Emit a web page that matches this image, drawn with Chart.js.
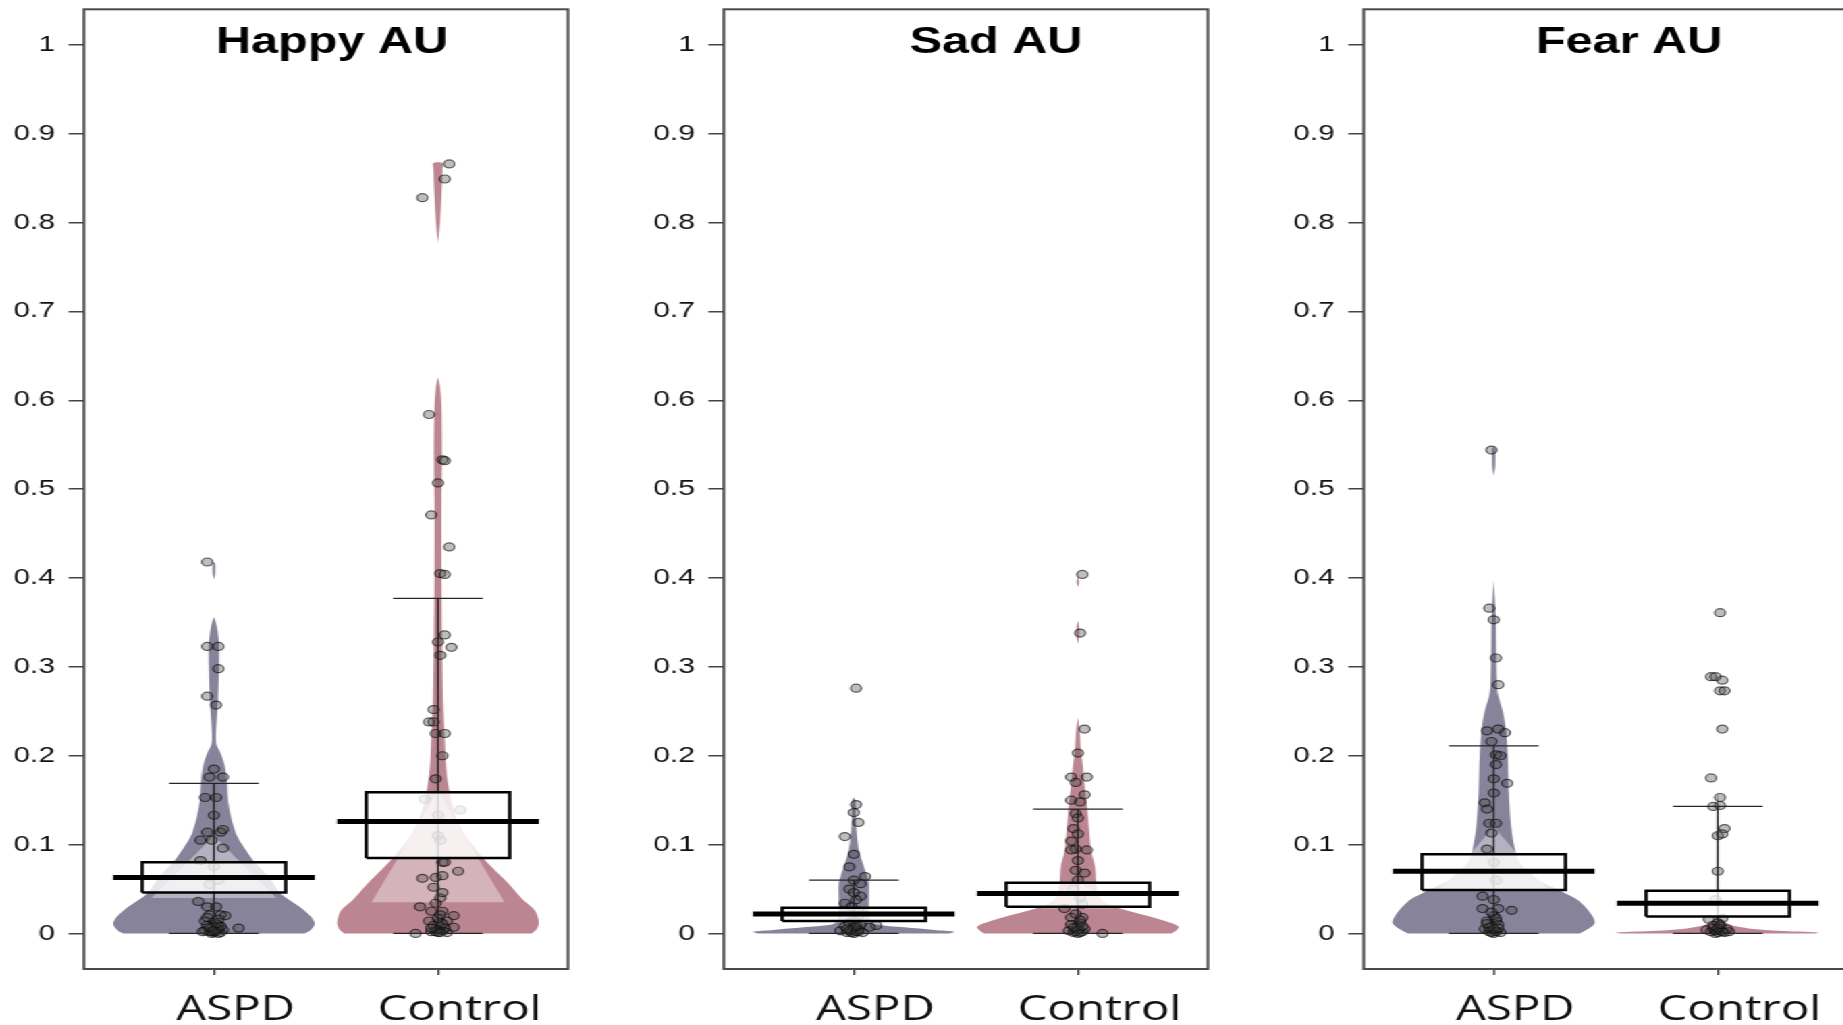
<!DOCTYPE html>
<html>
<head>
<meta charset="utf-8">
<title>Happy / Sad / Fear AU</title>
<script src="https://cdn.jsdelivr.net/npm/chart.js@4.4.1/dist/chart.umd.min.js"></script>
<style>
  html, body { margin: 0; padding: 0; background: #fff; overflow: hidden; }
  /* the source figure is stretched sideways, so the whole row is too */
  #wrap { position: absolute; left: 0; top: 0; width: 1366px; height: 1025px;
          transform: scaleX(1.35); transform-origin: 0 0; }
  .panel { position: absolute; top: 0; width: 474px; height: 1025px; }
</style>
</head>
<body>
<div id="wrap">
  <div class="panel" style="left:0px"><canvas id="c0" width="474" height="1025"></canvas></div>
  <div class="panel" style="left:473.6px"><canvas id="c1" width="474" height="1025"></canvas></div>
  <div class="panel" style="left:947.6px"><canvas id="c2" width="474" height="1025"></canvas></div>
</div>
<script>
// ---- data ----
var panelTitles = ['Happy AU', 'Sad AU', 'Fear AU'];
var groupNames = ['ASPD', 'Control'];
var yTicks = [0, 0.1, 0.2, 0.3, 0.4, 0.5, 0.6, 0.7, 0.8, 0.9, 1];
var yTickLabels = ['0', '0.1', '0.2', '0.3', '0.4', '0.5', '0.6', '0.7', '0.8', '0.9', '1'];

// per panel: [ASPD, Control]
var meanVals   = [[0.063, 0.126], [0.022, 0.045], [0.070, 0.034]];
var boxLow     = [[0.046, 0.085], [0.014, 0.030], [0.049, 0.019]];
var boxHigh    = [[0.080, 0.159], [0.029, 0.057], [0.089, 0.048]];
var whiskerTop = [[0.169, 0.377], [0.060, 0.140], [0.211, 0.143]];

// bean outlines: [y, relative width]
var violinHappyASPD = [[0,0.9],[0.004,0.96],[0.011,1.0],[0.019,0.96],[0.03,0.85],[0.045,0.66],[0.064,0.54],[0.082,0.39],
  [0.1,0.28],[0.112,0.22],[0.131,0.17],[0.15,0.14],[0.169,0.13],[0.187,0.11],[0.202,0.07],[0.213,0.025],[0.225,0.02],
  [0.243,0.03],[0.262,0.04],[0.3,0.05],[0.326,0.05],[0.345,0.03],[0.356,0]];
var tipHappyASPD = [[0.398,0],[0.405,0.012],[0.416,0.012],[0.418,0]];
var violinHappyControl = [[0,0.93],[0.005,0.98],[0.013,1.0],[0.026,0.96],[0.037,0.85],[0.056,0.7],[0.075,0.53],[0.094,0.38],
  [0.112,0.26],[0.131,0.18],[0.15,0.13],[0.169,0.1],[0.187,0.08],[0.225,0.065],[0.262,0.05],[0.337,0.04],[0.412,0.035],
  [0.487,0.035],[0.535,0.04],[0.593,0.035],[0.615,0.02],[0.626,0]];
var tipHappyControl = [[0.777,0],[0.8,0.02],[0.83,0.035],[0.86,0.045],[0.867,0.045]];
var violinSadASPD = [[0,0.95],[0.002,1.0],[0.004,0.8],[0.007,0.5],[0.01,0.22],[0.015,0.16],[0.025,0.15],[0.04,0.15],
  [0.056,0.15],[0.065,0.13],[0.075,0.1],[0.094,0.05],[0.112,0.03],[0.13,0.02],[0.15,0.015],[0.153,0]];
var violinSadControl = [[0,0.93],[0.004,0.98],[0.0075,1.0],[0.012,0.92],[0.015,0.84],[0.0225,0.6],[0.03,0.36],[0.038,0.24],
  [0.045,0.2],[0.06,0.18],[0.075,0.17],[0.094,0.13],[0.112,0.115],[0.131,0.1],[0.15,0.085],[0.169,0.065],[0.187,0.05],
  [0.206,0.03],[0.225,0.02],[0.243,0]];
var tipSadControl1 = [[0.325,0],[0.335,0.012],[0.345,0.012],[0.352,0]];
var tipSadControl2 = [[0.39,0],[0.395,0.012],[0.402,0]];
var violinFearASPD = [[0,0.85],[0.0015,0.88],[0.011,1.0],[0.021,0.97],[0.037,0.84],[0.0475,0.67],[0.06,0.45],[0.078,0.27],
  [0.09,0.22],[0.118,0.175],[0.158,0.15],[0.198,0.14],[0.23,0.12],[0.25,0.09],[0.27,0.04],[0.286,0.03],[0.318,0.025],
  [0.359,0.02],[0.398,0]];
var tipFearASPD = [[0.515,0],[0.525,0.015],[0.545,0.015],[0.548,0]];
var violinFearControl = [[0,0.97],[0.001,1.0],[0.003,0.6],[0.005,0.35],[0.008,0.18],[0.012,0.08],[0.016,0.03],[0.02,0.015],
  [0.05,0.01],[0.1,0.008],[0.15,0.005],[0.16,0]];

// light patch over each bean: [apex y, base y, base relative width]
var glowVals = [[[0.11, 0.04, 0.62], [0.16, 0.035, 0.66]], [[0.03, 0.012, 0.2], [0.06, 0.028, 0.36]], [[0.12, 0.048, 0.55], [0.045, 0.012, 0.3]]];

// raw points: [x jitter, y]
var ptsHappyASPD = [[-0.03,0.418],[-0.03,0.323],[0.02,0.323],[0.02,0.298],[-0.03,0.267],[0.01,0.257],[0,0.185],[-0.02,0.176],
  [0.04,0.176],[-0.04,0.153],[0.01,0.153],[0,0.133],[-0.03,0.114],[0.03,0.114],[0.04,0.117],[-0.06,0.105],[-0.01,0.105],
  [0.04,0.096],[-0.06,0.082],[0,0.075],[0.02,0.06],[-0.02,0.055],[-0.07,0.036],[-0.03,0.03],[0.01,0.03],[-0.02,0.021],
  [0.03,0.021],[0.05,0.02],[-0.04,0.014],[0,0.013],[0.11,0.006],[-0.04,0.003],[-0.02,0.002],[0,0.001],[0.01,0.002],
  [0.03,0.001],[-0.01,0],[0.02,0],[0.04,0.004],[-0.05,0.002],[0,0.008],[0.02,0.01],[-0.01,0.006],[-0.03,0.009],
  [0.01,0.004],[-0.01,0.002],[0.02,0.005],[0,0.003],[-0.02,0.007],[0.03,0.008],[0.01,0.011],[-0.03,0.018],[0.02,0.016]];
var ptsHappyControl = [[0.05,0.866],[0.03,0.849],[-0.07,0.828],[-0.04,0.584],[0.02,0.533],[0.03,0.532],[0,0.507],[-0.03,0.471],
  [0.05,0.435],[0.01,0.405],[0.03,0.404],[0.03,0.336],[0,0.328],[0.06,0.322],[0.01,0.313],[-0.02,0.252],[-0.04,0.238],
  [-0.02,0.238],[-0.01,0.225],[0.03,0.225],[0.02,0.2],[-0.01,0.174],[-0.06,0.151],[0,0.133],[0.1,0.139],[0,0.11],[0.01,0.105],
  [0.02,0.08],[0.03,0.08],[-0.07,0.062],[-0.01,0.063],[0.02,0.065],[0.09,0.07],[-0.02,0.052],[0.01,0.04],[-0.08,0.03],
  [-0.03,0.025],[0.02,0.025],[0.07,0.02],[-0.04,0.014],[0.01,0.013],[0.04,0.014],[0.07,0.007],[-0.1,0],[-0.03,0.002],
  [0,0.001],[0.02,0.003],[0.04,0.001],[-0.01,0.005],[0.01,0.008],[-0.02,0.009],[0.03,0.006],[0,0.004],[-0.01,0.002],
  [0.01,0.001],[-0.03,0.006],[0.02,0.011],[0,0.017],[0.01,0.021],[-0.01,0.034],[0.02,0.046]];
var ptsSadASPD = [[0.01,0.276],[0.01,0.145],[0,0.136],[0.02,0.125],[-0.04,0.109],[0,0.089],[-0.02,0.075],[0.05,0.064],[0,0.06],
  [0.03,0.056],[-0.02,0.05],[0.03,0.042],[-0.04,0.034],[0.02,0.025],[0.1,0.009],[0.07,0.007],[-0.06,0.003],[-0.03,0.001],
  [0,0],[0.02,0.002],[0.04,0.001],[-0.01,0.004],[0.01,0.006],[-0.04,0.008],[0.03,0.01],[0,0.015],[-0.02,0.012],
  [-0.01,0.001],[0.01,0.002],[0.02,0.004],[-0.02,0.003],[0,0.007],[0.01,0.009],[-0.03,0.005],[0.02,0.02],[-0.01,0.03],
  [0.01,0.038],[0,0.046]];
var ptsSadControl = [[0.02,0.404],[0.01,0.338],[0.03,0.23],[0,0.203],[-0.03,0.176],[0.04,0.176],[-0.01,0.17],[0.03,0.156],
  [-0.03,0.15],[0.01,0.148],[-0.01,0.135],[0,0.13],[-0.02,0.118],[0,0.112],[-0.03,0.104],[-0.01,0.095],[-0.03,0.094],
  [0.04,0.094],[0,0.082],[-0.01,0.071],[0.03,0.068],[0,0.06],[-0.02,0.05],[0.01,0.04],[-0.06,0.028],[-0.03,0.018],
  [0.02,0.018],[0,0.009],[0.11,0],[-0.04,0.003],[-0.02,0.001],[0,0],[0.02,0.002],[0.03,0.005],[-0.01,0.006],[0.01,0.012],
  [-0.03,0.01],[-0.01,0.002],[0.01,0.001],[0,0.004],[-0.02,0.007],[0.02,0.008],[0.01,0.015],[-0.01,0.022],[0.02,0.033]];
var ptsFearASPD = [[-0.01,0.544],[-0.02,0.366],[0,0.353],[0.01,0.31],[0.02,0.28],[0.02,0.23],[-0.03,0.228],[0.05,0.226],
  [-0.01,0.216],[0.01,0.201],[0.03,0.2],[0.01,0.19],[0,0.174],[0.06,0.169],[0,0.158],[-0.04,0.147],[-0.03,0.14],
  [-0.02,0.124],[0.01,0.124],[-0.01,0.113],[-0.03,0.095],[0,0.08],[0.01,0.06],[-0.05,0.042],[0,0.038],[-0.05,0.028],
  [0.02,0.028],[0.08,0.026],[-0.03,0.014],[0.01,0.014],[-0.04,0.005],[-0.02,0.002],[0,0],[0.01,0.003],[0.03,0.001],
  [-0.01,0.008],[0.02,0.01],[0,0.02],[-0.01,0.001],[0.01,0.002],[0,0.005],[-0.02,0.007],[0.02,0.006],[-0.03,0.011],
  [0.01,0.017],[-0.01,0.024]];
var ptsFearControl = [[0.01,0.361],[-0.03,0.289],[-0.01,0.289],[0.02,0.285],[0.01,0.273],[0.03,0.273],[0.02,0.23],
  [-0.03,0.175],[0.01,0.153],[-0.02,0.143],[0.01,0.144],[0.03,0.118],[0,0.11],[0.02,0.112],[0,0.07],[-0.01,0.038],
  [-0.04,0.016],[0.02,0.017],[-0.05,0.004],[-0.03,0.002],[-0.01,0],[0,0.001],[0.01,0.003],[0.03,0.001],[0.05,0.002],
  [-0.02,0.006],[0.01,0.008],[0,0.012],[0.04,0.005],[-0.01,0.003],[0.02,0.002],[0,0.006],[-0.02,0.009],[0.01,0.01]];

var violins = [
  [[violinHappyASPD, tipHappyASPD], [violinHappyControl, tipHappyControl]],
  [[violinSadASPD], [violinSadControl, tipSadControl1, tipSadControl2]],
  [[violinFearASPD, tipFearASPD], [violinFearControl]]
];
var points = [[ptsHappyASPD, ptsHappyControl], [ptsSadASPD, ptsSadControl], [ptsFearASPD, ptsFearControl]];

// ---- look ----
var beanColors = ['#86839a', '#bb8591'];
var BEAN_W = 0.45, BOX_W = 0.32, CAP_W = 0.2;
var titleX = [183.7, 201.6, 196.5];   // title centre from the plot's left edge (canvas px)

function beanShape(c, piece) {
    var left = piece.map(function(p) { return {x: c - p[1] * BEAN_W, y: p[0]}; });
    var right = piece.slice().reverse().map(function(p) { return {x: c + p[1] * BEAN_W, y: p[0]}; });
    return left.concat(right);
}

function panelDatasets(p) {
    var ds = [];
    [0, 1].forEach(function(g) {
        var c = g + 1;
        violins[p][g].forEach(function(piece) {
            ds.push({data: beanShape(c, piece), fill: 'shape', backgroundColor: beanColors[g],
                     borderColor: 'rgba(0,0,0,0)', borderWidth: 0, pointRadius: 0, tension: 0.3, order: 6});
        });
        var gl = glowVals[p][g];
        ds.push({data: [{x: c - gl[2] * BEAN_W, y: gl[1]}, {x: c, y: gl[0]}, {x: c + gl[2] * BEAN_W, y: gl[1]}],
                 fill: 'shape', backgroundColor: 'rgba(255,255,255,0.38)', borderColor: 'rgba(0,0,0,0)',
                 borderWidth: 0, pointRadius: 0, order: 5});
        ds.push({data: points[p][g].map(function(q) { return {x: c + q[0], y: q[1]}; }),
                 showLine: false, pointRadius: 4, pointBackgroundColor: 'rgba(70,70,70,0.35)',
                 pointBorderColor: 'rgba(0,0,0,0.6)', pointBorderWidth: 1.2, order: 4});
        var w = whiskerTop[p][g];
        ds.push({data: [{x: c - CAP_W, y: 0}, {x: c + CAP_W, y: 0}, {x: c, y: 0}, {x: c, y: w},
                        {x: c - CAP_W, y: w}, {x: c + CAP_W, y: w}],
                 borderColor: '#262626', borderWidth: 1.3, pointRadius: 0, fill: false, order: 3});
        var lo = boxLow[p][g], hi = boxHigh[p][g];
        ds.push({data: [{x: c - BOX_W, y: lo}, {x: c + BOX_W, y: lo}, {x: c + BOX_W, y: hi},
                        {x: c - BOX_W, y: hi}, {x: c - BOX_W, y: lo}],
                 fill: 'shape', backgroundColor: 'rgba(255,255,255,0.8)', borderColor: '#000',
                 borderWidth: 2.5, borderJoinStyle: 'miter', pointRadius: 0, order: 2});
        var m = meanVals[p][g];
        ds.push({data: [{x: c - BEAN_W, y: m}, {x: c + BEAN_W, y: m}],
                 borderColor: '#000', borderWidth: 5, borderCapStyle: 'butt', pointRadius: 0, fill: false, order: 1});
    });
    return ds;
}

var framePlugin = {
    id: 'frame',
    afterDatasetsDraw: function(chart, args, opts) {
        var ctx = chart.ctx, a = chart.chartArea;
        ctx.save();
        ctx.strokeStyle = '#4a4a4a';
        ctx.lineWidth = 2;
        ctx.strokeRect(a.left, a.top, a.right - a.left, a.bottom - a.top);
        ctx.fillStyle = '#000';
        ctx.font = 'bold 36px "Liberation Sans", Arial, sans-serif';
        ctx.textAlign = 'center';
        ctx.textBaseline = 'alphabetic';
        ctx.fillText(opts.text, a.left + opts.x, 52.7);
        ctx.restore();
    }
};

function noPad(s) {
    s.paddingTop = 0; s.paddingBottom = 0; s.paddingLeft = 0; s.paddingRight = 0;
}

for (var p = 0; p < 3; p++) {
    new Chart(document.getElementById('c' + p), {
        type: 'line',
        data: {datasets: panelDatasets(p)},
        plugins: [framePlugin],
        options: {
            responsive: false,
            animation: false,
            events: [],
            layout: {padding: {top: 9.3, right: 53.3, bottom: 0, left: 0}},
            plugins: {
                legend: {display: false},
                tooltip: {enabled: false},
                frame: {text: panelTitles[p], x: titleX[p]}
            },
            scales: {
                x: {
                    type: 'linear', min: 0.42, max: 2.58,
                    afterBuildTicks: function(s) { s.ticks = [{value: 1}, {value: 2}]; },
                    afterFit: function(s) { s.height = 56; noPad(s); },
                    grid: {drawOnChartArea: false, drawTicks: true, tickLength: 6, color: '#444', lineWidth: 1.5},
                    border: {display: false},
                    ticks: {
                        callback: function(v, i) { return groupNames[i]; },
                        font: {family: '"Open Sans", sans-serif', size: 35},
                        color: '#111', labelOffset: 16, padding: 14, maxRotation: 0, autoSkip: false
                    }
                },
                y: {
                    type: 'linear', min: -0.04, max: 1.04,
                    afterBuildTicks: function(s) { s.ticks = yTicks.map(function(v) { return {value: v}; }); },
                    afterFit: function(s) { s.width = 62.2; noPad(s); },
                    grid: {drawOnChartArea: false, drawTicks: true, tickLength: 11.5, color: '#444', lineWidth: 1.5},
                    border: {display: false},
                    ticks: {
                        callback: function(v, i) { return yTickLabels[i]; },
                        font: {family: '"Liberation Sans", Arial, sans-serif', size: 22},
                        color: '#111', padding: 10, autoSkip: false
                    }
                }
            }
        }
    });
}
</script>
</body>
</html>
